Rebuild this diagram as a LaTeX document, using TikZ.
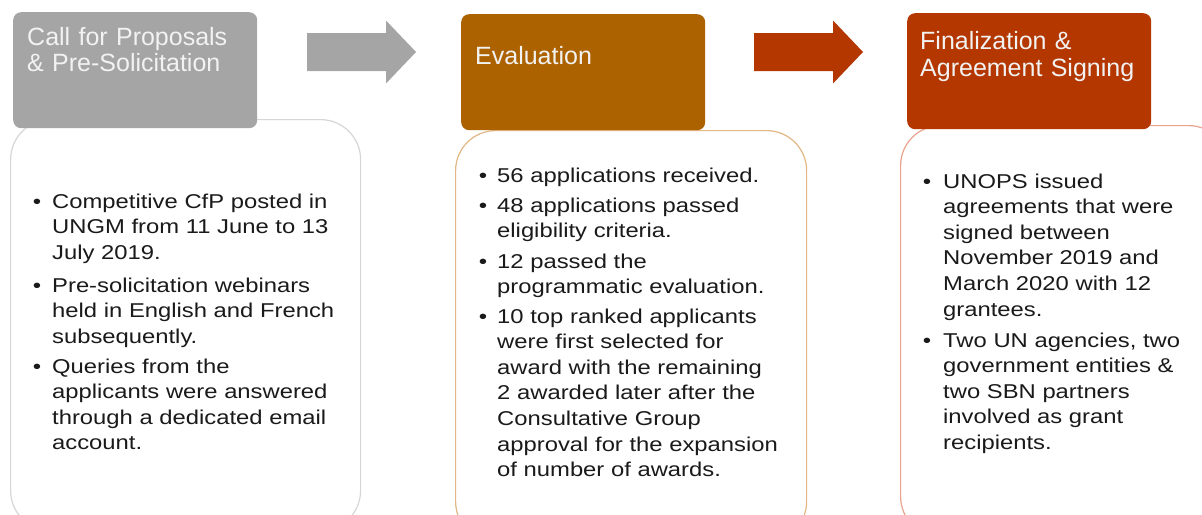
\documentclass[tikz,border=0pt]{standalone}
\usepackage{fontspec}
\setmainfont{Liberation Sans}
\newfontfamily\bodyfont[FakeStretch=1.19]{Liberation Sans}
\definecolor{headgray}{HTML}{A5A5A5}
\definecolor{headbrown}{HTML}{AD6200}
\definecolor{headred}{HTML}{B43700}
\definecolor{edgegray}{HTML}{D6D6D6}
\definecolor{edgebrown}{HTML}{E2B785}
\definecolor{edgered}{HTML}{E8A490}
\definecolor{textdark}{HTML}{1A1A1A}
\begin{document}
\begin{tikzpicture}[x=1pt,y=-1pt,
  headbox/.style={rounded corners=8pt, inner sep=0pt, minimum width=244pt, minimum height=116pt, anchor=north west},
  bodybox/.style={rounded corners=40pt, fill=white, line width=1.2pt, inner sep=0pt, minimum height=411pt, anchor=north west},
  headtxt/.style={anchor=base west, inner sep=0pt, text=white!95!black, text width=240pt, align=left,
    font=\fontsize{25}{27}\selectfont},
  item/.style={anchor=base west, inner sep=0pt, text=textdark, text width=300pt, align=left,
    font=\bodyfont\fontsize{20}{25.6}\selectfont},
  dot/.style={anchor=base, inner sep=0pt, text=textdark, font=\bodyfont\fontsize{20}{25.6}\selectfont},
  blockarrow/.pic={\fill[pic actions] (0,-19) -- (79,-19) -- (79,-31.5) -- (109,0) -- (79,31.5) -- (79,19) -- (0,19) -- cycle;}
]
\useasboundingbox (0,0) rectangle (1202,514);
\clip (0,0) rectangle (1202,514);

% text panels
\node[bodybox, draw=edgegray, minimum width=350pt] (b1) at (10,119) {};
\node[bodybox, draw=edgebrown, minimum width=351pt] (b2) at (455,130) {};
\node[bodybox, draw=edgered, minimum width=328pt] (b3) at (900,125) {};

% stage headers
\node[headbox, fill=headgray] (h1) at (13,12) {};
\node[headbox, fill=headbrown] (h2) at (461,14) {};
\node[headbox, fill=headred] (h3) at (907,13) {};

\node[headtxt] (t1) at (27,45) {Call for Proposals\\\& Pre-Solicitation};
\node[headtxt] (t2) at (475,64) {Evaluation};
\node[headtxt] (t3) at (920,49) {Finalization \&\\Agreement Signing};

% block arrows between stages
\pic[fill=headgray] at (307,52) {blockarrow};
\pic[fill=headred] at (754,52) {blockarrow};

% first panel
\node[dot] (d1) at (37,208) {\textbullet};
\node[item] (l1) at (52,208) {Competitive CfP posted in\\UNGM from 11 June to 13\\July 2019.};
\node[dot] (d2) at (37,292) {\textbullet};
\node[item] (l2) at (52,292) {Pre-solicitation webinars\\held in English and French\\subsequently.};
\node[dot] (d3) at (37,373) {\textbullet};
\node[item] (l3) at (52,373) {Queries from the\\applicants were answered\\through a dedicated email\\account.};

% second panel
\node[dot] (d4) at (483,182) {\textbullet};
\node[item] (m1) at (497,182) {56 applications received.};
\node[dot] (d5) at (483,212) {\textbullet};
\node[item] (m2) at (497,212) {48 applications passed\\eligibility criteria.};
\node[dot] (d6) at (483,268) {\textbullet};
\node[item] (m3) at (497,268) {12 passed the\\programmatic evaluation.};
\node[dot] (d7) at (483,323) {\textbullet};
\node[item] (m4) at (497,323) {10 top ranked applicants\\were first selected for\\award with the remaining\\2 awarded later after the\\Consultative Group\\approval for the expansion\\of number of awards.};

% third panel
\node[dot] (d8) at (927,188) {\textbullet};
\node[item] (r1) at (943,188) {UNOPS issued\\agreements that were\\signed between\\November 2019 and\\March 2020 with 12\\grantees.};
\node[dot] (d9) at (927,347) {\textbullet};
\node[item] (r2) at (943,347) {Two UN agencies, two\\government entities \&\\two SBN partners\\involved as grant\\recipients.};
\end{tikzpicture}
\end{document}
